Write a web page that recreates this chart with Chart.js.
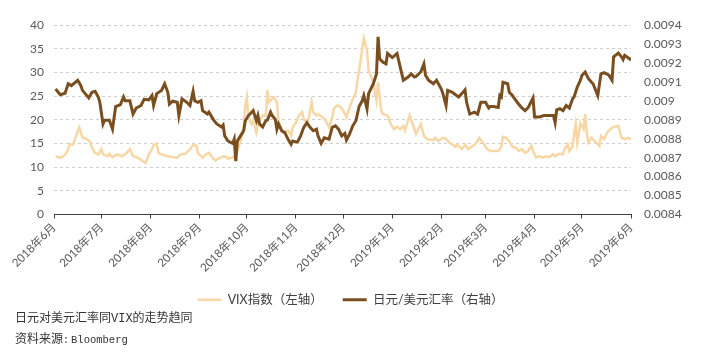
<!DOCTYPE html>
<html>
<head>
<meta charset="utf-8">
<script src="https://cdn.jsdelivr.net/npm/chart.js@4.4.1/dist/chart.umd.min.js"></script>
<style>
  html, body { margin: 0; padding: 0; background: #fff; }
  #wrap { position: relative; width: 705px; height: 354px; }
  .note { position: absolute; left: 15px; font-family: 'Liberation Mono', 'Noto Sans CJK SC', monospace; font-size: 12px; color: #333; white-space: nowrap; }
  .note .c { font-size: 10px; }
  .note .b { font-size: 10.5px; margin-left: 2px; }
</style>
</head>
<body>
<div id="wrap">
  <canvas id="fxChart" width="705" height="354"></canvas>
  <div class="note" style="top:308px;">日元对美元汇率同VIX的走势趋同</div>
  <div class="note" style="top:329px;">资料来源<span class="c">:</span><span class="b">Bloomberg</span></div>
</div>
<script>
// x positions are days counted from 2018-06-01
const monthStarts = [0, 30, 61, 92, 122, 153, 183, 214, 245, 273, 304, 334, 365];
const monthLabels = ['2018年6月', '2018年7月', '2018年8月', '2018年9月', '2018年10月', '2018年11月', '2018年12月',
  '2019年1月', '2019年2月', '2019年3月', '2019年4月', '2019年5月', '2019年6月'];

const vixDays = [1, 4, 6, 8, 10, 12, 14, 16, 18, 21, 23, 24, 26, 28, 30, 31, 34, 35, 37, 40, 43, 46, 48, 50, 53, 56, 58, 60,
  62, 63, 65, 66, 68, 72, 75, 78, 80, 83, 86, 88, 90, 91, 94, 96, 98, 100, 102, 105, 108, 110, 113, 114, 116, 118, 120,
  121, 122, 123, 125, 126, 128, 129, 132, 134, 135, 136, 139, 141, 142, 144, 145, 148, 150, 151, 153, 155, 157, 158, 160,
  161, 163, 164, 166, 167, 170, 172, 174, 176, 177, 179, 181, 183, 185, 187, 189, 191, 192, 194, 195, 196, 198, 199, 202,
  203, 204, 205, 207, 208, 211, 213, 215, 217, 219, 221, 222, 225, 228, 229, 232, 234, 236, 240, 241, 243, 246, 248, 250,
  252, 254, 255, 258, 260, 262, 266, 268, 269, 272, 274, 276, 278, 281, 283, 284, 286, 288, 290, 292, 294, 296, 298, 300,
  302, 303, 305, 307, 309, 311, 313, 316, 317, 319, 322, 323, 325, 326, 328, 329, 330, 331, 333, 335, 336, 337, 338, 340,
  342, 345, 346, 348, 350, 352, 354, 357, 359, 361, 363, 365];
const vixValues = [12.3, 12.0, 12.3, 13.0, 14.8, 14.7, 16.6, 18.4, 16.2, 15.9, 15.2, 14.1, 13.0, 12.7, 13.8, 12.7, 12.3, 12.8,
  12.1, 12.7, 12.3, 13.0, 13.8, 12.3, 12.0, 11.3, 10.9, 12.7, 13.8, 14.7, 15.0, 13.0, 12.7, 12.3, 12.1, 12.0, 12.7, 12.8,
  13.8, 14.7, 14.5, 13.0, 12.0, 12.7, 13.0, 12.1, 11.4, 12.0, 12.3, 11.8, 12.0, 12.3, 13.4, 15.5, 18.4, 23.0, 24.8, 20.5,
  19.1, 19.8, 17.3, 19.1, 20.9, 20.9, 26.2, 23.7, 24.8, 23.7, 19.8, 18.0, 17.3, 17.7, 16.6, 18.4, 19.4, 20.9, 21.6, 20.1,
  19.4, 20.1, 23.7, 21.6, 20.9, 21.2, 20.5, 19.8, 18.4, 20.5, 22.3, 23.0, 22.8, 21.9, 20.5, 22.6, 24.4, 25.8, 28.3, 32.6,
  35.0, 37.2, 34.7, 30.4, 27.9, 25.8, 24.0, 27.9, 21.9, 21.2, 20.9, 19.1, 18.0, 18.5, 18.0, 18.7, 17.7, 20.9, 18.0, 17.0,
  19.1, 16.6, 15.9, 15.7, 16.2, 15.5, 16.2, 16.0, 15.2, 14.8, 14.3, 14.7, 13.8, 14.7, 13.8, 14.7, 15.5, 16.2, 14.8, 13.8,
  13.4, 13.4, 13.4, 14.3, 16.4, 16.2, 15.4, 14.3, 14.1, 13.4, 13.8, 13.0, 13.4, 14.5, 13.4, 12.0, 12.3, 12.0, 12.3, 12.1,
  12.7, 12.3, 12.8, 12.7, 13.8, 14.8, 13.4, 14.3, 17.0, 19.1, 15.2, 19.2, 18.0, 21.2, 17.3, 15.2, 16.2, 15.5, 14.5, 16.6,
  15.9, 17.3, 18.0, 18.5, 18.7, 16.2, 15.9, 16.2, 15.9];

const jpyDays = [1, 4, 7, 9, 11, 15, 17, 18, 22, 24, 26, 28, 29, 31, 32, 35, 37, 39, 42, 44, 45, 48, 50, 52, 55, 57, 60, 62,
  63, 65, 68, 70, 72, 73, 75, 78, 79, 81, 84, 86, 88, 89, 91, 93, 94, 97, 98, 101, 103, 106, 107, 108, 110, 113, 114, 115,
  116, 118, 120, 121, 123, 126, 128, 129, 130, 132, 134, 135, 137, 138, 140, 141, 142, 144, 146, 148, 150, 151, 154, 156,
  158, 160, 162, 164, 166, 167, 169, 171, 174, 176, 178, 180, 182, 184, 185, 187, 189, 191, 193, 195, 196, 198, 199, 202,
  204, 205, 206, 208, 210, 211, 214, 217, 219, 221, 224, 226, 228, 229, 232, 234, 235, 237, 240, 242, 245, 246, 248, 249,
  252, 254, 256, 258, 260, 261, 263, 266, 268, 269, 270, 273, 275, 276, 278, 281, 282, 283, 284, 287, 288, 290, 291, 294,
  296, 298, 300, 303, 304, 307, 310, 313, 316, 317, 318, 320, 322, 324, 326, 328, 329, 331, 333, 334, 336, 338, 340, 341,
  344, 346, 348, 351, 353, 354, 357, 359, 360, 361, 364, 365];
const jpyRates = [0.009062, 0.009032, 0.009040, 0.009090, 0.009080, 0.009108, 0.009080, 0.009055, 0.009015, 0.009045,
  0.009050, 0.009020, 0.008992, 0.008878, 0.008898, 0.008898, 0.008850, 0.008970, 0.008980, 0.009020, 0.009000, 0.009000,
  0.008930, 0.008962, 0.008975, 0.009008, 0.009005, 0.009028, 0.008975, 0.009038, 0.009055, 0.009090, 0.009045, 0.008982,
  0.008998, 0.008992, 0.008922, 0.009010, 0.008992, 0.008975, 0.009050, 0.009000, 0.008992, 0.009000, 0.008948, 0.008930,
  0.008940, 0.008898, 0.008878, 0.008862, 0.008872, 0.008815, 0.008788, 0.008775, 0.008798, 0.008682, 0.008788, 0.008815,
  0.008842, 0.008895, 0.008922, 0.008948, 0.008895, 0.008922, 0.008878, 0.008862, 0.008895, 0.008898, 0.008940, 0.008922,
  0.008902, 0.008850, 0.008878, 0.008842, 0.008832, 0.008798, 0.008770, 0.008788, 0.008782, 0.008815, 0.008860, 0.008885,
  0.008860, 0.008842, 0.008850, 0.008815, 0.008775, 0.008805, 0.008798, 0.008860, 0.008868, 0.008850, 0.008815, 0.008828,
  0.008792, 0.008825, 0.008868, 0.008895, 0.008970, 0.009000, 0.009028, 0.008958, 0.009038, 0.009090, 0.009142, 0.009338,
  0.009222, 0.009205, 0.009195, 0.009250, 0.009228, 0.009250, 0.009178, 0.009108, 0.009125, 0.009142, 0.009125, 0.009128,
  0.009152, 0.009195, 0.009135, 0.009108, 0.009090, 0.009108, 0.009062, 0.009038, 0.008975, 0.009055, 0.009045, 0.009032,
  0.009020, 0.009038, 0.009058, 0.008992, 0.008930, 0.008940, 0.008930, 0.008962, 0.008992, 0.008992, 0.008962, 0.008970,
  0.008970, 0.008965, 0.009028, 0.009020, 0.009098, 0.009090, 0.009045, 0.009028, 0.009015, 0.008982, 0.008962, 0.008948,
  0.008965, 0.009015, 0.008915, 0.008915, 0.008922, 0.008922, 0.008922, 0.008885, 0.008952, 0.008958, 0.008948, 0.008975,
  0.008962, 0.009010, 0.009020, 0.009072, 0.009108, 0.009135, 0.009152, 0.009118, 0.009098, 0.009090, 0.009028, 0.009142,
  0.009148, 0.009135, 0.009108, 0.009232, 0.009252, 0.009232, 0.009218, 0.009240, 0.009222, 0.009215];

const vixColor = '#F7D7A5';
const jpyColor = '#7A4E1F';

Chart.defaults.font.family = "Lato, 'Noto Sans CJK SC', sans-serif";
Chart.defaults.color = '#595959';

const ctx = document.getElementById('fxChart');
new Chart(ctx, {
  type: 'line',
  data: {
    datasets: [
      {
        label: 'VIX指数（左轴）',
        data: vixDays.map((d, i) => ({ x: d, y: vixValues[i] })),
        yAxisID: 'yLeft',
        borderColor: vixColor,
        backgroundColor: vixColor,
        borderWidth: 2.5,
        pointRadius: 0,
        pointStyle: 'line',
        tension: 0,
        order: 2
      },
      {
        label: '日元/美元汇率（右轴）',
        data: jpyDays.map((d, i) => ({ x: d, y: jpyRates[i] })),
        yAxisID: 'yRight',
        borderColor: jpyColor,
        backgroundColor: jpyColor,
        borderWidth: 3,
        pointRadius: 0,
        pointStyle: 'line',
        tension: 0,
        order: 1
      }
    ]
  },
  options: {
    responsive: false,
    animation: false,
    layout: { padding: { left: 10, right: 14, top: 25, bottom: 38 } },
    plugins: {
      tooltip: { enabled: false },
      legend: {
        position: 'bottom',
        labels: {
          usePointStyle: true,
          pointStyleWidth: 24,
          boxHeight: 12,
          padding: 20,
          color: '#404040',
          font: { size: 12.5 },
          sort: (a, b) => a.datasetIndex - b.datasetIndex
        }
      }
    },
    scales: {
      x: {
        type: 'linear',
        min: 0,
        max: 365,
        afterBuildTicks: (scale) => { scale.ticks = monthStarts.map(v => ({ value: v })); },
        afterFit: (scale) => { scale.height = 59; },
        ticks: {
          autoSkip: false,
          minRotation: 45,
          maxRotation: 45,
          padding: 2,
          font: { size: 11.5 },
          callback: (value) => monthLabels[monthStarts.indexOf(value)]
        },
        grid: { drawOnChartArea: false, tickLength: 4, color: '#404040' },
        border: { display: true, color: '#404040', width: 1 }
      },
      yLeft: {
        position: 'left',
        min: 0,
        max: 40,
        afterFit: (scale) => { scale.width = 44; },
        ticks: { stepSize: 5, padding: 10, font: { size: 12 } },
        grid: { color: '#CFCFCF', drawTicks: false },
        border: { display: false, dash: [3, 3] }
      },
      yRight: {
        position: 'right',
        min: 0.0084,
        max: 0.0094,
        afterFit: (scale) => { scale.width = 60; },
        ticks: {
          stepSize: 0.0001,
          padding: 13,
          font: { size: 12 },
          callback: (value) => String(parseFloat(value.toFixed(4)))
        },
        grid: { display: false, drawTicks: false },
        border: { display: false }
      }
    }
  }
});
</script>
</body>
</html>
